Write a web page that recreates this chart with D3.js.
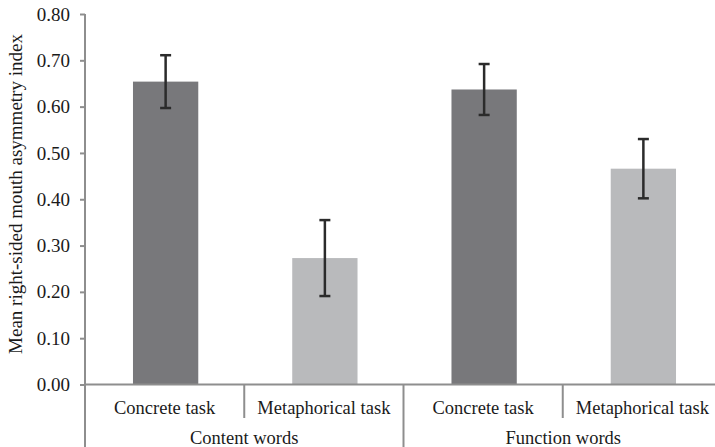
<!DOCTYPE html>
<html>
<head>
<meta charset="utf-8">
<script src="https://cdn.jsdelivr.net/npm/d3@7"></script>
<style>
  html, body { margin: 0; padding: 0; background: #fff; }
  svg { display: block; }
  text { font-family: "Liberation Serif", "Times New Roman", serif; fill: #1a1a1a; }
</style>
</head>
<body>
<svg id="chart" width="715" height="447"></svg>
<script>
const categories = ["Concrete task", "Metaphorical task", "Concrete task", "Metaphorical task"];
const groups = ["Content words", "Function words"];
const groupOf = [0, 0, 1, 1];
const values = [0.654, 0.273, 0.637, 0.466];
const errors = [0.057, 0.082, 0.055, 0.064];
const barKind = ["concrete", "metaphorical", "concrete", "metaphorical"];
const yTicks = [0, 0.1, 0.2, 0.3, 0.4, 0.5, 0.6, 0.7, 0.8];
const yTitle = "Mean right-sided mouth asymmetry index";

const W = 715, H = 447;
const axisX = 85, y0 = 384.5, yTop = 14;
const axisColor = "#8e8e8e";
const colors = { concrete: "#78787b", metaphorical: "#b9babc" };

const svg = d3.select("#chart");
const idx = categories.map((_, i) => i);

const x = d3.scaleBand().domain(idx).range([86, 723]).padding(0);
const step = x.step();
const bw = step * 0.41;
const y = d3.scaleLinear().domain([0, 0.8]).range([y0, yTop]);

// bars
svg.append("g").selectAll("rect").data(idx).join("rect")
  .attr("x", i => x(i) + (step - bw) / 2)
  .attr("width", bw)
  .attr("y", i => y(values[i]))
  .attr("height", i => y(0) - y(values[i]))
  .attr("fill", i => colors[barKind[i]]);

// error bars
const eg = svg.append("g").attr("stroke", "#2b2b2b").attr("stroke-width", 2.5).attr("fill", "none");
idx.forEach(i => {
  const cx = x(i) + step / 2;
  const hi = y(values[i] + errors[i]), lo = y(values[i] - errors[i]);
  eg.append("line").attr("x1", cx).attr("x2", cx).attr("y1", hi).attr("y2", lo);
  eg.append("line").attr("x1", cx - 5.5).attr("x2", cx + 5.5).attr("y1", hi).attr("y2", hi);
  eg.append("line").attr("x1", cx - 5.5).attr("x2", cx + 5.5).attr("y1", lo).attr("y2", lo);
});

// y axis ticks and labels
const yAxis = d3.axisLeft(y).tickValues(yTicks).tickFormat(d3.format(".2f")).tickSize(5).tickPadding(10);
const yg = svg.append("g").attr("transform", `translate(${axisX},0)`).call(yAxis);
yg.select(".domain").remove();
yg.selectAll(".tick line").attr("stroke", axisColor).attr("stroke-width", 2);
yg.selectAll(".tick text").attr("font-size", "19px").attr("font-family", "Liberation Serif, serif").attr("fill", "#1a1a1a");

// axis lines
svg.append("line").attr("x1", axisX).attr("x2", axisX).attr("y1", yTop).attr("y2", H)
  .attr("stroke", axisColor).attr("stroke-width", 2);
svg.append("line").attr("x1", axisX).attr("x2", W).attr("y1", y0).attr("y2", y0)
  .attr("stroke", axisColor).attr("stroke-width", 2);

// separators between categories
idx.slice(1).forEach(i => {
  const isGroupBoundary = groupOf[i] !== groupOf[i - 1];
  svg.append("line")
    .attr("x1", x(i) - 1).attr("x2", x(i) - 1)
    .attr("y1", y0).attr("y2", isGroupBoundary ? H : 418)
    .attr("stroke", axisColor).attr("stroke-width", 2);
});

// category labels
svg.append("g").selectAll("text").data(idx).join("text")
  .attr("x", i => x(i) + step / 2 - 1)
  .attr("y", 414)
  .attr("text-anchor", "middle")
  .attr("font-size", "18.5px")
  .text(i => categories[i]);

// group labels
groups.forEach((g, gi) => {
  const members = idx.filter(i => groupOf[i] === gi);
  const left = gi === 0 ? axisX : x(members[0]) - 1;
  const right = gi === groups.length - 1 ? x(members[members.length - 1]) + step : x(members[members.length - 1]) + step - 1;
  svg.append("text")
    .attr("x", (left + right) / 2)
    .attr("y", 444)
    .attr("text-anchor", "middle")
    .attr("font-size", "18.5px")
    .text(g);
});

// y title
svg.append("text")
  .attr("transform", `translate(22,194) rotate(-90)`)
  .attr("text-anchor", "middle")
  .attr("font-size", "19px")
  .text(yTitle);
</script>
</body>
</html>
